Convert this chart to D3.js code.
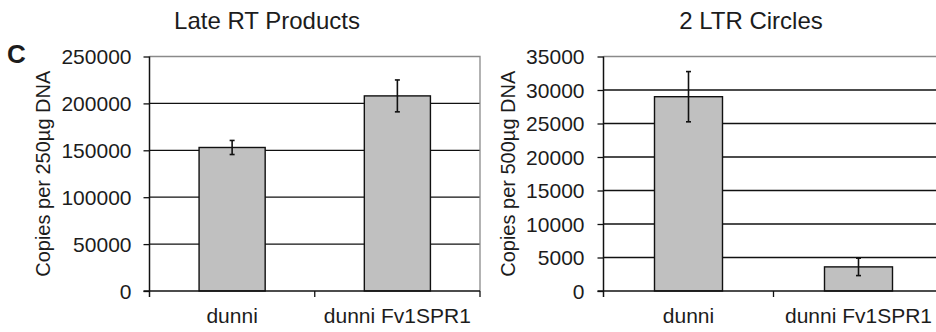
<!DOCTYPE html>
<html>
<head>
<meta charset="utf-8">
<script src="https://cdn.jsdelivr.net/npm/d3@7"></script>
<style>
  html, body { margin: 0; padding: 0; background: #fff; }
  svg { display: block; font-family: "Liberation Sans", Arial, sans-serif; }
</style>
</head>
<body>
<svg id="chart" width="936" height="332"></svg>
<script>
// Categories shared by both panels
const categories = ["dunni", "dunni Fv1SPR1"];

// Late RT products (copies per 250 µg DNA)
const lateRtValues = [153000, 208000];
const lateRtErrors = [7500, 17000];
const lateRtTicks = [0, 50000, 100000, 150000, 200000, 250000];

// 2-LTR circles (copies per 500 µg DNA)
const ltrValues = [29000, 3600];
const ltrErrors = [3750, 1300];
const ltrTicks = [0, 5000, 10000, 15000, 20000, 25000, 30000, 35000];

const panels = [
  {
    title: "Late RT Products", titleX: 267,
    yLabel: "Copies per 250µg DNA", yLabelX: 50,
    values: lateRtValues, errors: lateRtErrors, ticks: lateRtTicks,
    left: 149.5, right: 480, pad: 12
  },
  {
    title: "2 LTR Circles", titleX: 751,
    yLabel: "Copies per 500µg DNA", yLabelX: 515,
    values: ltrValues, errors: ltrErrors, ticks: ltrTicks,
    left: 603.5, right: 943.5, pad: 13
  }
];

const plotTop = 56.5, plotBottom = 291;
const ink = "#1c1c1c";
const svg = d3.select("#chart");

// Panel letter
svg.append("text")
  .attr("x", 7).attr("y", 63)
  .attr("font-size", 26).attr("font-weight", "bold")
  .attr("fill", ink)
  .text("C");

panels.forEach(p => {
  const g = svg.append("g");
  const yMax = p.ticks[p.ticks.length - 1];
  const y = d3.scaleLinear().domain([0, yMax]).range([plotBottom, plotTop]);
  const x = d3.scaleBand().domain(categories).range([p.left, p.right])
    .paddingInner(0.6).paddingOuter(0.3);

  // Horizontal gridlines
  g.append("g").selectAll("line")
    .data(p.ticks.filter(t => t > 0 && t < yMax))
    .join("line")
    .attr("x1", p.left).attr("x2", p.right)
    .attr("y1", d => y(d)).attr("y2", d => y(d))
    .attr("stroke", "#111").attr("stroke-width", 1.3);

  // Plot-area frame (top and right edges)
  g.append("path")
    .attr("d", `M${p.left},${y(yMax)}H${p.right}V${plotBottom}`)
    .attr("fill", "none").attr("stroke", "#8a8a8a").attr("stroke-width", 1.3);

  // Bars
  g.append("g").selectAll("rect")
    .data(p.values)
    .join("rect")
    .attr("x", (d, i) => x(categories[i]))
    .attr("width", x.bandwidth())
    .attr("y", d => y(d))
    .attr("height", d => plotBottom - y(d))
    .attr("fill", "#c0c0c0")
    .attr("stroke", "#111").attr("stroke-width", 1.4);

  // Error bars
  const eb = g.append("g").attr("stroke", "#111").attr("stroke-width", 1.6);
  p.values.forEach((v, i) => {
    const cx = x(categories[i]) + x.bandwidth() / 2;
    const e = p.errors[i];
    eb.append("line").attr("x1", cx).attr("x2", cx).attr("y1", y(v + e)).attr("y2", y(v - e));
    eb.append("line").attr("x1", cx - 2.5).attr("x2", cx + 2.5).attr("y1", y(v + e)).attr("y2", y(v + e));
    eb.append("line").attr("x1", cx - 2.5).attr("x2", cx + 2.5).attr("y1", y(v - e)).attr("y2", y(v - e));
  });

  // Y axis
  const yAxis = g.append("g")
    .attr("transform", `translate(${p.left},0)`)
    .call(d3.axisLeft(y).tickValues(p.ticks).tickFormat(d3.format("d"))
      .tickSize(6).tickSizeOuter(0).tickPadding(p.pad));
  yAxis.select(".domain").remove();
  yAxis.selectAll(".tick line").attr("stroke", "#111").attr("stroke-width", 1.3);
  yAxis.selectAll(".tick text")
    .attr("font-size", 21).attr("fill", ink).attr("dy", "0.35em");
  yAxis.attr("font-family", null).attr("font-size", null);
  g.append("line")
    .attr("x1", p.left).attr("x2", p.left).attr("y1", plotTop).attr("y2", plotBottom + 6)
    .attr("stroke", "#111").attr("stroke-width", 1.5);

  // X axis with ticks on category boundaries
  g.append("line")
    .attr("x1", p.left - 6).attr("x2", p.right).attr("y1", plotBottom).attr("y2", plotBottom)
    .attr("stroke", "#111").attr("stroke-width", 1.5);
  g.append("g").selectAll("line")
    .data(categories.map((c, i) => p.left + x.step() * (i + 1)))
    .join("line")
    .attr("x1", d => d).attr("x2", d => d)
    .attr("y1", plotBottom).attr("y2", plotBottom + 6)
    .attr("stroke", "#111").attr("stroke-width", 1.3);

  // Category labels
  g.append("g").selectAll("text")
    .data(categories)
    .join("text")
    .attr("x", d => x(d) + x.bandwidth() / 2)
    .attr("y", 323)
    .attr("text-anchor", "middle")
    .attr("font-size", 21).attr("fill", ink)
    .text(d => d);

  // Title
  g.append("text")
    .attr("x", p.titleX).attr("y", 28.5)
    .attr("text-anchor", "middle")
    .attr("font-size", 24).attr("fill", ink)
    .text(p.title);

  // Y-axis title
  g.append("text")
    .attr("transform", `translate(${p.yLabelX},${(plotTop + plotBottom) / 2}) rotate(-90)`)
    .attr("text-anchor", "middle")
    .attr("font-size", 20).attr("fill", ink)
    .text(p.yLabel);
});
</script>
</body>
</html>
